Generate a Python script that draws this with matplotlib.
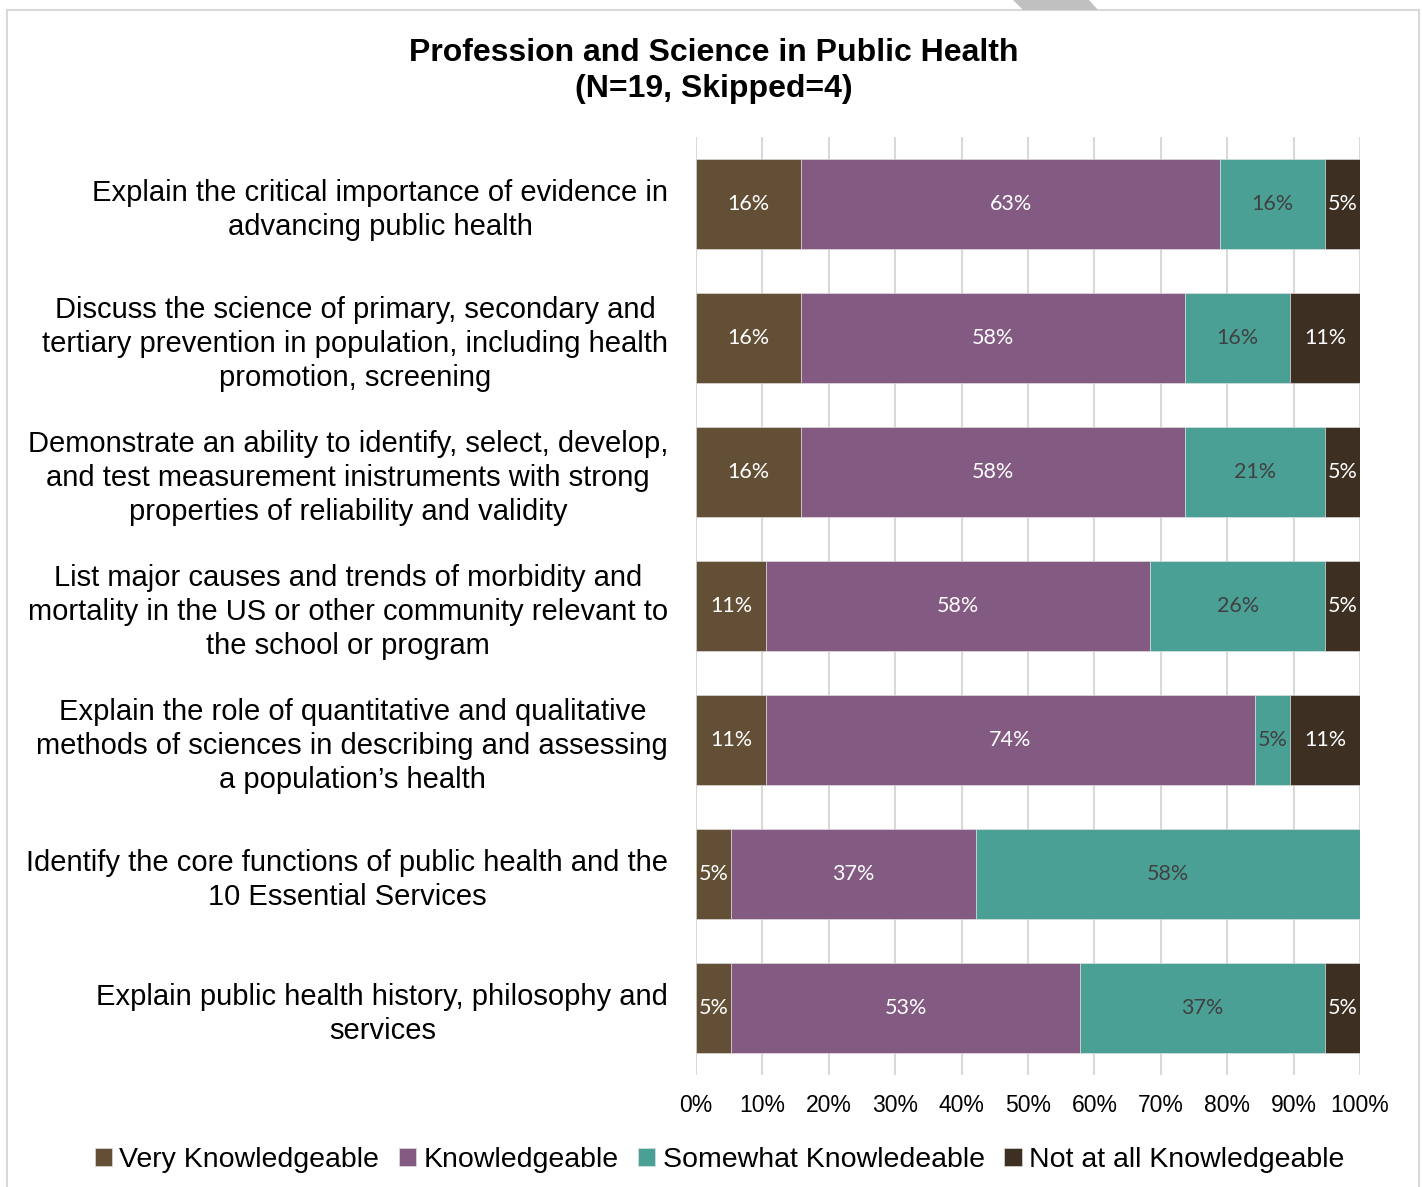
import matplotlib.pyplot as plt
import matplotlib.patches as mpatches
import numpy as np

# respondents per answer, out of N = 19
N = 19
items = [
    "Explain the critical importance of evidence in\nadvancing public health",
    "Discuss the science of primary, secondary and\ntertiary prevention in population, including health\npromotion, screening",
    "Demonstrate an ability to identify, select, develop,\nand test measurement inistruments with strong\nproperties of reliability and validity",
    "List major causes and trends of morbidity and\nmortality in the US or other community relevant to\nthe school or program",
    "Explain the role of quantitative and qualitative\nmethods of sciences in describing and assessing\na population\u2019s health",
    "Identify the core functions of public health and the\n10 Essential Services",
    "Explain public health history, philosophy and\nservices",
]
very_knowledgeable = [3, 3, 3, 2, 2, 1, 1]
knowledgeable = [12, 11, 11, 11, 14, 7, 10]
somewhat_knowledgeable = [3, 3, 4, 5, 1, 11, 7]
not_knowledgeable = [1, 2, 1, 1, 2, 0, 1]

series_names = ["Very Knowledgeable", "Knowledgeable",
                "Somewhat Knowledeable", "Not at all Knowledgeable"]
colors = ["#634F35", "#835A81", "#4BA096", "#3D3022"]
label_colors = ["white", "white", "#404040", "white"]
ticks = np.arange(0, 101, 10)

plt.rcParams['font.family'] = ['Liberation Sans', 'DejaVu Sans']

fig = plt.figure(figsize=(14.22, 11.87), dpi=100)

# outer chart frame and the grey tab at the top edge
fig.patches.append(mpatches.Rectangle((7 / 1422, -0.01), 1412 / 1422, 1 - 10 / 1187 + 0.01,
                                      transform=fig.transFigure, fill=False,
                                      edgecolor="#D9D9D9", linewidth=1.5))
tab = [(1013, 0), (1089, 0), (1098, 10), (1023, 10)]
fig.patches.append(mpatches.Polygon([(x / 1422, 1 - y / 1187) for x, y in tab],
                                    closed=True, transform=fig.transFigure,
                                    facecolor="#C0C0C0", edgecolor="none"))

ax = fig.add_axes([696 / 1422, 1 - 1075 / 1187, 664 / 1422, 938 / 1187])

series = [very_knowledgeable, knowledgeable, somewhat_knowledgeable, not_knowledgeable]
ypos = np.arange(len(items))
left = np.zeros(len(items))
for vals, name, col, lcol in zip(series, series_names, colors, label_colors):
    pct = np.array(vals) / N * 100
    ax.barh(ypos, pct, left=left, height=0.67, color=col, label=name,
            edgecolor="#E6E6E6", linewidth=0.4, zorder=3)
    for y, l, p in zip(ypos, left, pct):
        if p > 0:
            ax.text(l + p / 2, y, f"{p:.0f}%", ha="center", va="center",
                    color=lcol, fontsize=15.5, family="Lato", zorder=4)
    left += pct

ax.set_xlim(0, 100)
ax.set_ylim(len(items) - 0.5, -0.5)
ax.set_xticks(ticks)
ax.set_xticklabels([f"{t}%" for t in ticks], fontsize=16.5)
ax.set_yticks(ypos)
ax.set_yticklabels(items, fontsize=21, ha="right", multialignment="center",
                   linespacing=1.26)
ax.tick_params(axis="y", length=0, pad=20)
ax.tick_params(axis="x", length=0, pad=14)
ax.grid(axis="x", color="#D9D9D9", linewidth=1.5, zorder=0)
for s in ax.spines.values():
    s.set_visible(False)

fig.text(0.502, 1 - 53 / 1187, "Profession and Science in Public Health",
         ha="center", va="center", fontsize=23, fontweight="bold")
fig.text(0.502, 1 - 89 / 1187, "(N=19, Skipped=4)",
         ha="center", va="center", fontsize=23, fontweight="bold")

fig.legend(loc="center", bbox_to_anchor=(0.506, 1 - 1160 / 1187), ncol=4,
           frameon=False, fontsize=20.5, handlelength=0.6, handleheight=0.6,
           handletextpad=0.25, columnspacing=0.7)

fig.savefig("out.png", dpi=100, facecolor="white")
